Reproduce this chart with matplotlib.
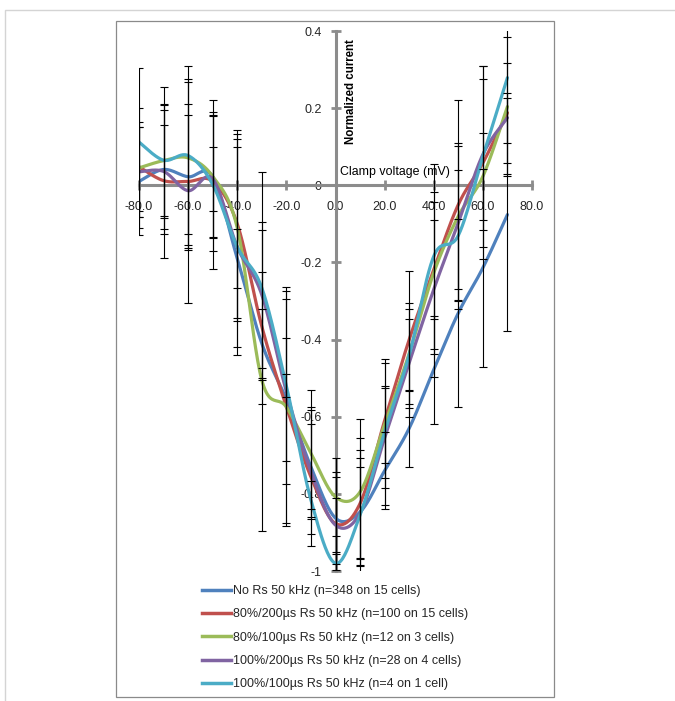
import numpy as np
import matplotlib.pyplot as plt
from matplotlib.lines import Line2D
from matplotlib.patches import Rectangle

# clamp voltages (mV)
volt = [-80, -70, -60, -50, -40, -30, -20, -10, 0, 10, 20, 30, 40, 50, 60, 70]

# normalized currents, one list per condition
no_rs = [0.010, 0.041, 0.022, 0.022, -0.19, -0.41, -0.556, -0.73, -0.863, -0.847,
         -0.74, -0.63, -0.478, -0.331, -0.214, -0.076]
rs80_200 = [0.048, 0.012, 0.010, 0.010, -0.10, -0.366, -0.574, -0.756, -0.877, -0.825,
            -0.61, -0.40, -0.219, -0.05, 0.058, 0.188]
rs80_100 = [0.045, 0.064, 0.071, 0.023, -0.11, -0.505, -0.575, -0.695, -0.808, -0.795,
            -0.62, -0.436, -0.227, -0.08, 0.023, 0.204]
rs100_200 = [0.035, 0.036, -0.014, 0.017, -0.16, -0.284, -0.535, -0.743, -0.881, -0.85,
             -0.655, -0.46, -0.27, -0.097, 0.08, 0.175]
rs100_100 = [0.112, 0.065, 0.077, 0.002, -0.16, -0.266, -0.52, -0.816, -0.98, -0.855,
             -0.64, -0.44, -0.184, -0.13, 0.075, 0.279]

# error bars (+/-)
err_no_rs = [0.14, 0.155, 0.19, 0.157, 0.076, 0.09, 0.16, 0.11, 0.12, 0.14,
             0.10, 0.10, 0.14, 0.243, 0.256, 0.303]
err_80_200 = [0.115, 0.20, 0.173, 0.18, 0.243, 0.14, 0.31, 0.18, 0.12, 0.14,
              0.15, 0.177, 0.128, 0.27, 0.25, 0.13]
err_80_100 = [0.155, 0.143, 0.197, 0.16, 0.242, 0.39, 0.30, 0.165, 0.10, 0.19,
              0.10, 0.13, 0.21, 0.19, 0.113, 0.18]
err_100_200 = [0.117, 0.12, 0.29, 0.083, 0.26, 0.19, 0.24, 0.16, 0.07, 0.12,
               0.13, 0.14, 0.226, 0.20, 0.195, 0.065]
err_100_100 = [0.193, 0.19, 0.233, 0.22, 0.28, 0.30, 0.03, 0.05, 0.025, 0.20,
               0.19, 0.093, 0.24, 0.17, 0.234, 0.25]

labels = ['No Rs 50 kHz (n=348 on 15 cells)',
          '80%/200µs Rs 50 kHz (n=100 on 15 cells)',
          '80%/100µs Rs 50 kHz (n=12 on 3 cells)',
          '100%/200µs Rs 50 kHz (n=28 on 4 cells)',
          '100%/100µs Rs 50 kHz (n=4 on 1 cell)']
colors = ['#4F81BD', '#C0504D', '#9BBB59', '#8064A2', '#4BACC6']
series = [no_rs, rs80_200, rs80_100, rs100_200, rs100_100]
errors = [err_no_rs, err_80_200, err_80_100, err_100_200, err_100_100]

xticks = [-80, -60, -40, -20, 0, 20, 40, 60, 80]
xticklabels = ['-80.0', '-60.0', '-40.0', '-20.0', '0.0', '20.0', '40.0', '60.0', '80.0']
yticks = [0.4, 0.2, 0, -0.2, -0.4, -0.6, -0.8, -1]
yticklabels = ['0.4', '0.2', '0', '-0.2', '-0.4', '-0.6', '-0.8', '-1']


def smooth(x, y, n=24):
    # excel style smoothed line (catmull-rom through the points)
    p = np.column_stack([x, y]).astype(float)
    p = np.vstack([p[0], p, p[-1]])
    t = np.linspace(0, 1, n, endpoint=False)[:, None]
    out = []
    for i in range(1, len(p) - 2):
        p0, p1, p2, p3 = p[i - 1], p[i], p[i + 1], p[i + 2]
        c1 = p1 + (p2 - p0) / 6.0
        c2 = p2 - (p3 - p1) / 6.0
        seg = ((1 - t) ** 3) * p1 + 3 * ((1 - t) ** 2) * t * c1 + 3 * (1 - t) * t ** 2 * c2 + t ** 3 * p2
        out.append(seg)
    out.append(p[-2][None, :])
    out = np.vstack(out)
    return out[:, 0], out[:, 1]


plt.rcParams['font.family'] = ['Liberation Sans', 'DejaVu Sans']
W, H = 675, 701
fig = plt.figure(figsize=(W / 100, H / 100), dpi=100)

# outer frame and chart box
fig.patches.append(Rectangle((5 / W, -0.01), 1.0, 1 - 10 / H + 0.01, transform=fig.transFigure,
                             fill=False, edgecolor='#d4d4d4', linewidth=1.0))
fig.patches.append(Rectangle((116 / W, 1 - 697 / H), (554 - 116) / W, (697 - 21) / H,
                             transform=fig.transFigure, fill=False, edgecolor='#8a8a8a', linewidth=0.9))

ax = fig.add_axes([139 / W, 1 - 571 / H, 393 / W, 540 / H])
ax.set_facecolor('none')

handles = []
for vals, err, col, lab in zip(series, errors, colors, labels):
    sx, sy = smooth(volt, vals)
    ax.plot(sx, sy, color=col, linewidth=2.3, solid_capstyle='round', zorder=3)
    ax.errorbar(volt, vals, yerr=err, fmt='none', ecolor='black', elinewidth=0.8,
                capsize=3, capthick=0.8, zorder=4)
    handles.append(Line2D([0], [0], color=col, linewidth=2.5, label=lab))

ax.set_xlim(-80, 80)
ax.set_ylim(-1, 0.4)

for side in ['top', 'right']:
    ax.spines[side].set_visible(False)
ax.spines['left'].set_position('zero')
ax.spines['bottom'].set_position('zero')
for side in ['left', 'bottom']:
    ax.spines[side].set_color('#8c8c8c')
    ax.spines[side].set_linewidth(2.2)
    ax.spines[side].set_zorder(2)

ax.set_xticks(xticks)
ax.set_xticklabels(xticklabels)
ax.set_yticks(yticks)
ax.set_yticklabels(yticklabels)
ax.tick_params(direction='inout', length=7.5, width=2, color='#8c8c8c',
               labelsize=9, labelcolor='#262626')
ax.tick_params(axis='x', pad=7.5)
ax.tick_params(axis='y', pad=6)

fig.text(351 / W, 1 - 92 / H, 'Normalized current', rotation=90, ha='center', va='center',
         fontsize=8.3, fontweight='bold', color='black')
fig.text(340 / W, 1 - 172 / H, 'Clamp voltage (mV)', ha='left', va='center',
         fontsize=8.9, color='black')

fig.legend(handles=handles, loc='upper left', bbox_to_anchor=(202 / W, 1 - 585 / H),
           frameon=False, fontsize=9, handlelength=2.3, handletextpad=0.2,
           labelspacing=0.91, borderpad=0, borderaxespad=0, labelcolor='#262626')

plt.savefig('out.png', dpi=100)
